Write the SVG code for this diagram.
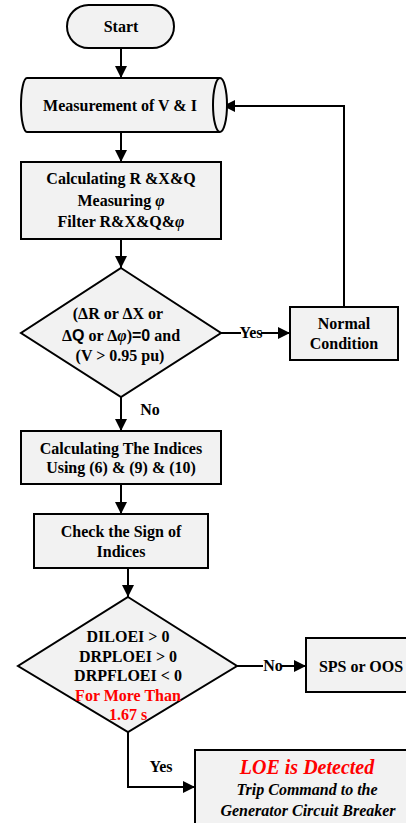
<svg xmlns="http://www.w3.org/2000/svg" width="406" height="823" viewBox="0 0 406 823">
<defs>
<style>
.n{fill:#f2f2f2;stroke:#000;stroke-width:2}
.c{fill:none;stroke:#000;stroke-width:2}
text{font-family:"Liberation Serif","Times New Roman",serif;font-weight:bold;font-size:16px;fill:#000;text-anchor:middle}
.red{fill:#ff0000}
.it{font-style:italic}
.sans{font-family:"Liberation Sans",Arial,sans-serif}
</style>
<marker id="ah" markerUnits="userSpaceOnUse" markerWidth="12" markerHeight="12" refX="12" refY="6" orient="auto">
<path d="M0,0 L12,6 L0,12 Z" fill="#000"/>
</marker>
</defs>
<rect width="406" height="823" fill="#fff"/>

<g id="connectors">
<path class="c" d="M121,48 V78" marker-end="url(#ah)"/>
<path class="c" d="M121,132 V162" marker-end="url(#ah)"/>
<path class="c" d="M121,239 V268" marker-end="url(#ah)"/>
<path class="c" d="M221,333 H241"/>
<path class="c" d="M261,333 H290" marker-end="url(#ah)"/>
<text x="251" y="338">Yes</text>
<path class="c" d="M344,307 V106 H223" marker-end="url(#ah)"/>
<path class="c" d="M121,397 V431" marker-end="url(#ah)"/>
<text x="150" y="415">No</text>
<path class="c" d="M121,484 V514" marker-end="url(#ah)"/>
<path class="c" d="M128,568 V597" marker-end="url(#ah)"/>
<path class="c" d="M237,666 H263"/>
<path class="c" d="M281,666 H306" marker-end="url(#ah)"/>
<text x="273" y="671">No</text>
<path class="c" d="M128,732 V787 H195" marker-end="url(#ah)"/>
<text x="161" y="772">Yes</text>
</g>

<g id="start">
<rect class="n" x="67" y="5" width="107" height="43" rx="21.5"/>
<text x="121" y="32">Start</text>
</g>

<g id="measurement">
<path class="n" d="M27,78 H220 A7,27 0 0 1 220,132 H27 A6,27 0 0 1 27,78 Z"/>
<path class="c" d="M220,78 A7,27 0 0 0 220,132"/>
<text x="120" y="111">Measurement of V &amp; I</text>
</g>

<g id="calc">
<rect class="n" x="21" y="162" width="200" height="77"/>
<text x="121" y="184">Calculating R &amp;X&amp;Q</text>
<text x="121" y="205.5">Measuring <tspan class="it">φ</tspan></text>
<text x="121" y="227">Filter R&amp;X&amp;Q&amp;<tspan class="it">φ</tspan></text>
</g>

<g id="decision1">
<path class="n" d="M121,268 L221,333 L121,397 L21,333 Z"/>
<text x="118" y="318.5">(ΔR or ΔX or</text>
<text x="121" y="340.5">Δ<tspan class="sans">Q</tspan> or Δ<tspan class="it">φ</tspan>)<tspan class="sans">=0</tspan> and</text>
<text x="120" y="361">(V &gt; 0.95 pu)</text>
</g>

<g id="normal">
<rect class="n" x="290" y="307" width="108" height="53"/>
<text x="344" y="329">Normal</text>
<text x="344" y="348.5">Condition</text>
</g>

<g id="indices">
<rect class="n" x="21" y="431" width="200" height="53"/>
<text x="121" y="454">Calculating The Indices</text>
<text x="121" y="473">Using (6) &amp; (9) &amp; (10)</text>
</g>

<g id="check">
<rect class="n" x="34" y="514" width="174" height="54"/>
<text x="121" y="537">Check the Sign of</text>
<text x="121" y="557">Indices</text>
</g>

<g id="decision2">
<path class="n" d="M128,597 L237,666 L128,732 L18,666 Z"/>
<text x="128" y="642">DILOEI &gt; 0</text>
<text x="128" y="661.5">DRPLOEI &gt; 0</text>
<text x="128" y="681">DRPFLOEI &lt; 0</text>
<text class="red" x="128" y="700.5">For More Than</text>
<text class="red" x="128" y="720">1.67 s</text>
</g>

<g id="sps">
<rect class="n" x="306" y="638" width="112" height="54"/>
<text x="361" y="672">SPS or OOS</text>
</g>

<g id="loe">
<rect class="n" x="195" y="750" width="225" height="90"/>
<text class="it red" x="307" y="774" style="font-size:20px">LOE is Detected</text>
<text class="it" x="307" y="795">Trip Command to the</text>
<text class="it" x="308" y="816">Generator Circuit Breaker</text>
</g>
</svg>
